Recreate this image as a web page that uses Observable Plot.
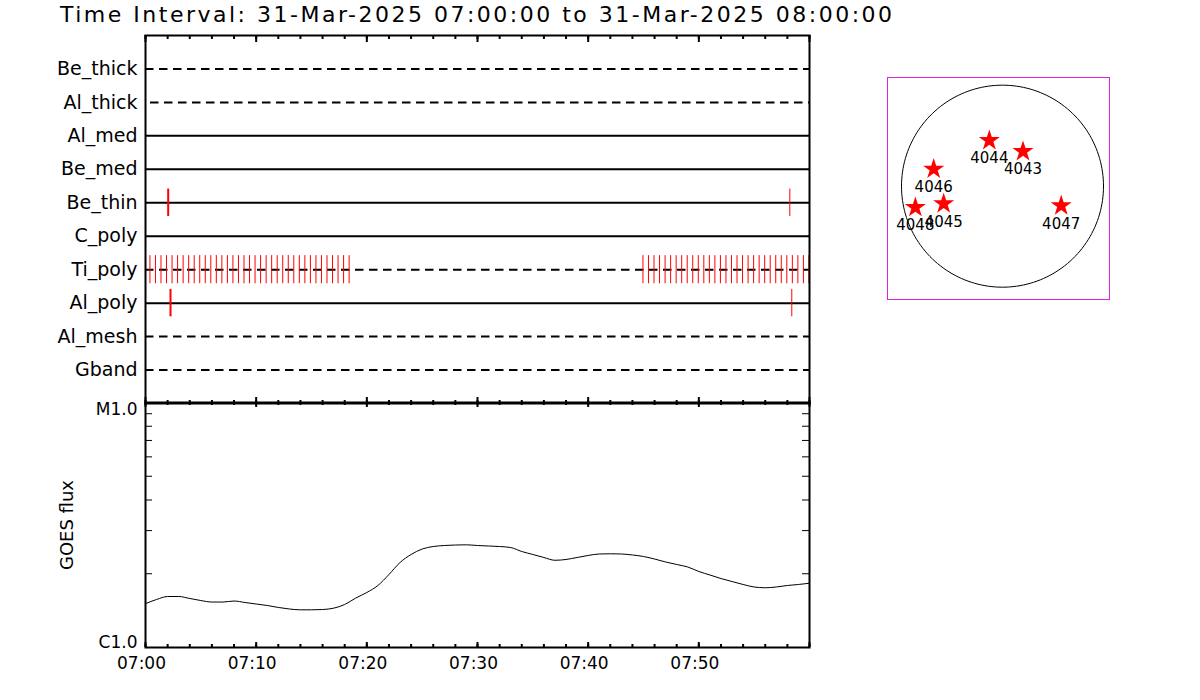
<!DOCTYPE html>
<html><head><meta charset="utf-8">
<script src="https://cdn.jsdelivr.net/npm/d3@7"></script>
<script src="https://cdn.jsdelivr.net/npm/@observablehq/plot@0.6"></script>
<style>
body{margin:0;background:#fff;width:1200px;height:700px;overflow:hidden;font-family:"DejaVu Sans",sans-serif;}
#root{position:relative;width:1200px;height:700px;}
.abs{position:absolute;}
#title{left:60px;top:1px;font-size:22px;line-height:28px;letter-spacing:2.5px;white-space:nowrap;color:#000;z-index:5;}
</style></head><body>
<div id="root">
<div id="title" class="abs">Time Interval: 31-Mar-2025 07:00:00 to 31-Mar-2025 08:00:00</div>
<div id="top" class="abs" style="left:0;top:0"></div>
<div id="bottom" class="abs" style="left:0;top:395px"></div>
<div id="disk" class="abs" style="left:877px;top:67px"></div>
</div>
<script>
// ---------- data ----------
const ROWS = ["Be_thick","Al_thick","Al_med","Be_med","Be_thin","C_poly","Ti_poly","Al_poly","Al_mesh","Gband"];
const ROW_DASHED = [true,true,false,false,false,false,true,false,true,true];
const ROW_DASH_OFFSET = [0,-5,0,0,0,0,0,0,0,0];

// minutes after 07:00
const TI_POLY_EVENTS = [0.4,0.9,1.4,1.9,2.4,2.9,3.4,3.9,4.4,4.9,5.4,5.9,6.4,6.9,7.4,7.9,8.4,8.9,9.4,9.9,
  10.4,10.9,11.4,11.9,12.4,12.9,13.4,13.9,14.4,14.9,15.4,15.9,16.4,16.9,17.4,17.9,18.4,
  44.95,45.45,45.95,46.45,46.95,47.45,47.95,48.45,48.95,49.45,49.95,50.45,50.95,51.45,51.95,52.45,
  52.95,53.45,53.95,54.45,54.95,55.45,55.95,56.45,56.95,57.45,57.95,58.45,58.95,59.45,59.95];
const OTHER_EVENT_ROWS = ["Be_thin","Be_thin","Al_poly","Al_poly"];
const OTHER_EVENT_TIMES = [2.05, 58.22, 2.26, 58.4];
const OTHER_EVENT_WIDTHS = [2, 1, 2, 1];

const GOES_MIN = [0,1,2,3,4,5,6,7,8,9,10,11,12,13,14,15,16,17,18,19,20,21,22,23,24,25,26,27,28,29,30,
  31,32,33,34,35,36,37,38,39,40,41,42,43,44,45,46,47,48,49,50,51,52,53,54,55,56,57,58,59,60];
// flux in units of 1e-6 W/m^2
const GOES_FLUX = [1.51,1.57,1.615,1.615,1.585,1.555,1.533,1.533,1.548,1.526,1.505,1.484,1.457,1.436,1.425,
  1.425,1.429,1.447,1.498,1.592,1.677,1.791,1.986,2.223,2.397,2.523,2.583,2.608,2.620,2.625,2.608,
  2.596,2.583,2.559,2.465,2.397,2.330,2.270,2.287,2.330,2.375,2.408,2.413,2.408,2.386,2.352,2.297,
  2.234,2.182,2.131,2.043,1.977,1.912,1.859,1.808,1.766,1.753,1.766,1.791,1.808,1.830];

const X_TICKS = [0,10,20,30,40,50];
const X_TICK_LABELS = ["07:00","07:10","07:20","07:30","07:40","07:50"];
const X_MINOR = [0,2,4,6,8,10,12,14,16,18,20,22,24,26,28,30,32,34,36,38,40,42,44,46,48,50,52,54,56,58,60];
const X_MAJOR = [0,10,20,30,40,50,60];
const Y_MINOR = [2,3,4,5,6,7,8,9];
const Y_LABEL_VALUES = [10, 1];
const Y_LABELS = ["M1.0", "C1.0"];

const SOLAR_RADIUS = 960;
const AR_NUM = ["4044","4043","4046","4048","4045","4047"];
const AR_X = [-125, 195, -654, -828, -559, 558];
const AR_Y = [434, 330, 162, -202, -167, -186];
const CROSS_X = [-692];
const CROSS_Y = [-363];

// ---------- top panel ----------
const FONT = "DejaVu Sans";
const rowData = ROWS.map((name, i) => ({name, pos: i + 1, dashed: ROW_DASHED[i], off: ROW_DASH_OFFSET[i]}));
const rowPos = name => ROWS.indexOf(name) + 1;
const TOP_W = 820, TOP_H = 410, TOP_MT = 35, TOP_MB = 7;
const topInner = TOP_H - TOP_MT - TOP_MB;
const otherEvents = OTHER_EVENT_ROWS.map((r, i) => ({row: r, t: OTHER_EVENT_TIMES[i], w: OTHER_EVENT_WIDTHS[i]}));
const tickPair = (data, which, len, innerH) => Plot.ruleX(data, which === "top"
  ? {x: d => d, insetBottom: innerH - len, stroke: "#000", strokeWidth: 2}
  : {x: d => d, insetTop: innerH - len, stroke: "#000", strokeWidth: 2});

const topMarks = [];
topMarks.push(Plot.ruleY(rowData.filter(d => !d.dashed), {y: "pos", stroke: "#000", strokeWidth: 2}));
[0, -5].forEach(off => {
  topMarks.push(Plot.ruleY(rowData.filter(d => d.dashed && d.off === off),
    {y: "pos", stroke: "#000", strokeWidth: 2, strokeDasharray: "8.5,5.5", strokeDashoffset: off}));
});
topMarks.push(Plot.ruleX(TI_POLY_EVENTS, {x: d => d, y1: rowPos("Ti_poly") - 0.42, y2: rowPos("Ti_poly") + 0.42, stroke: "#ff0000", strokeWidth: 1}));
[1, 2].forEach(w => {
  topMarks.push(Plot.ruleX(otherEvents.filter(d => d.w === w),
    {x: "t", y1: d => rowPos(d.row) - 0.41, y2: d => rowPos(d.row) + 0.41, stroke: "#ff0000", strokeWidth: w}));
});
topMarks.push(Plot.text(rowData, {y: "pos", text: "name", frameAnchor: "left", textAnchor: "end", dx: -8, fontSize: 19, fill: "#000"}));
topMarks.push(tickPair(X_MINOR, "top", 4, topInner));
topMarks.push(tickPair(X_MAJOR, "top", 7, topInner));
topMarks.push(tickPair(X_MINOR, "bottom", 3, topInner));
topMarks.push(tickPair(X_MAJOR, "bottom", 6, topInner));
topMarks.push(Plot.frame({stroke: "#000", strokeWidth: 2}));

const topPlot = Plot.plot({
  width: TOP_W, height: TOP_H,
  marginLeft: 145, marginRight: 11, marginTop: TOP_MT, marginBottom: TOP_MB,
  style: {background: "transparent", fontFamily: FONT, color: "#000", overflow: "visible"},
  x: {domain: [0, 60], axis: null},
  y: {domain: [0, 11], reverse: true, axis: null},
  marks: topMarks
});
document.getElementById("top").appendChild(topPlot);

// ---------- bottom panel ----------
const BOT_W = 820, BOT_H = 300, BOT_MT = 7, BOT_MB = 48, BOT_ML = 145, BOT_MR = 11;
const botInner = BOT_H - BOT_MT - BOT_MB;
const botInnerW = BOT_W - BOT_ML - BOT_MR;
const goes = GOES_MIN.map((t, i) => ({t, f: GOES_FLUX[i]}));
const yLab = Y_LABEL_VALUES.map((v, i) => ({v, label: Y_LABELS[i]}));

const botPlot = Plot.plot({
  width: BOT_W, height: BOT_H,
  marginLeft: BOT_ML, marginRight: BOT_MR, marginTop: BOT_MT, marginBottom: BOT_MB,
  style: {background: "transparent", fontFamily: FONT, color: "#000", overflow: "visible"},
  x: {domain: [0, 60]},
  y: {type: "log", domain: [1, 10], axis: null},
  marks: [
    Plot.line(goes, {x: "t", y: "f", stroke: "#000", strokeWidth: 1, curve: "monotone-x"}),
    Plot.ruleY(Y_MINOR, {y: d => d, insetRight: botInnerW - 7, stroke: "#000", strokeWidth: 1}),
    Plot.ruleY(Y_MINOR, {y: d => d, insetLeft: botInnerW - 7, stroke: "#000", strokeWidth: 1}),
    tickPair(X_MINOR, "top", 3, botInner),
    tickPair(X_MAJOR, "top", 5, botInner),
    tickPair(X_MINOR, "bottom", 3, botInner),
    tickPair(X_MAJOR, "bottom", 5, botInner),
    Plot.frame({stroke: "#000", strokeWidth: 2}),
    Plot.text(yLab.filter(d => d.v === 10), {y: "v", text: "label", frameAnchor: "left", textAnchor: "end", dx: -8, lineAnchor: "top", fontSize: 17, fill: "#000"}),
    Plot.text(yLab.filter(d => d.v === 1), {y: "v", text: "label", frameAnchor: "left", textAnchor: "end", dx: -8, lineAnchor: "bottom", fontSize: 17, fill: "#000"}),
    Plot.text(["GOES flux"], {text: d => d, frameAnchor: "left", textAnchor: "middle", dx: -78, rotate: -90, fontSize: 18, fill: "#000"}),
    Plot.axisX({ticks: X_TICKS, tickFormat: d => X_TICK_LABELS[X_TICKS.indexOf(d)], tickSize: 0, tickPadding: 9, fontSize: 17, dx: -4, label: null})
  ]
});
document.getElementById("bottom").appendChild(botPlot);

// ---------- solar disk ----------
const limb = d3.range(0, 361, 2).map(a => ({x: SOLAR_RADIUS * Math.cos(a * Math.PI / 180), y: SOLAR_RADIUS * Math.sin(a * Math.PI / 180)}));
const ars = AR_NUM.map((num, i) => ({num, x: AR_X[i], y: AR_Y[i]}));
const cross = CROSS_X.map((x, i) => ({x, y: CROSS_Y[i]}));
const diskPlot = Plot.plot({
  width: 242, height: 242,
  marginLeft: 10, marginRight: 10, marginTop: 10, marginBottom: 10,
  style: {background: "transparent", fontFamily: FONT, color: "#000", overflow: "visible"},
  x: {domain: [-1093, 1017], axis: null},
  y: {domain: [-1077, 1033], axis: null},
  marks: [
    Plot.frame({stroke: "#dd22dd", strokeWidth: 1}),
    Plot.line(limb, {x: "x", y: "y", stroke: "#000", strokeWidth: 1}),
    Plot.dot(ars, {x: "x", y: "y", symbol: "star", r: 6.6, fill: "#ff0000", stroke: "none"}),
    Plot.text(ars, {x: "x", y: "y", text: "num", dy: 18, fontSize: 15, fill: "#000"}),
    Plot.dot(cross, {x: "x", y: "y", symbol: "plus", r: 2.5, fill: "#000", stroke: "none"})
  ]
});
document.getElementById("disk").appendChild(diskPlot);
</script>
</body></html>
